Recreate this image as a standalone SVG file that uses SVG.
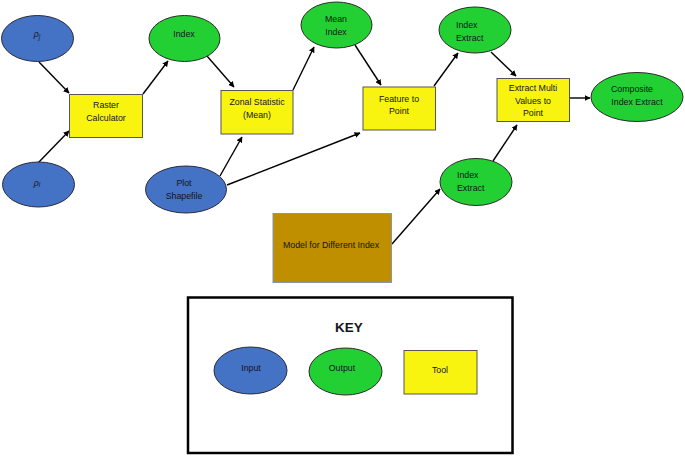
<svg xmlns="http://www.w3.org/2000/svg" width="685" height="456" viewBox="0 0 685 456">
<defs>
<marker id="ah" viewBox="0 0 10 10" refX="9" refY="5" markerWidth="6" markerHeight="6" markerUnits="userSpaceOnUse" orient="auto">
<path d="M0,0 L10,5 L0,10 z" fill="#000"/>
</marker>
<style>
.in{fill:#4472C4;stroke:#2a2a3a;stroke-width:1}
.out{fill:#22D033;stroke:#2a2a2a;stroke-width:1}
.tool{fill:#F8F410;stroke:#555;stroke-width:1}
.model{fill:#BF8F00;stroke:#8496B0;stroke-width:1}
text{font-family:"Liberation Sans",Arial,sans-serif;font-size:8.8px;fill:#141420}
.c{text-anchor:middle}
.conn line{stroke:#000;stroke-width:1.4;marker-end:url(#ah)}
.key{font-size:13.5px;font-weight:bold}
</style>
</defs>
<rect width="685" height="456" fill="#fff"/>
<g class="conn">
<line x1="39" y1="62" x2="69" y2="93"/>
<line x1="38" y1="163" x2="69" y2="131"/>
<line x1="143" y1="94" x2="168" y2="61"/>
<line x1="207" y1="56" x2="234" y2="87"/>
<line x1="293" y1="90" x2="314" y2="47"/>
<line x1="355" y1="45" x2="381" y2="85"/>
<line x1="220" y1="176" x2="242" y2="137"/>
<line x1="227" y1="185" x2="360" y2="133"/>
<line x1="434" y1="86" x2="458" y2="53"/>
<line x1="491" y1="52" x2="516" y2="76"/>
<line x1="569" y1="98" x2="590" y2="98"/>
<line x1="493" y1="161" x2="517" y2="125"/>
<line x1="392" y1="244" x2="440" y2="189"/>
</g>
<g id="rho-j"><ellipse class="in" cx="37.5" cy="38.5" rx="36" ry="23"/><text class="c" x="37" y="37" font-style="italic">ρ<tspan font-size="6.5" dy="1.5">j</tspan></text></g>
<g id="rho-i"><ellipse class="in" cx="38.5" cy="184.5" rx="36" ry="22.5"/><text class="c" x="37" y="186" font-style="italic">ρ<tspan font-size="6.5" dy="1">i</tspan></text></g>
<g id="raster"><rect class="tool" x="69.5" y="94.5" width="73" height="43"/><text class="c" x="106" y="108">Raster</text><text class="c" x="106" y="121">Calculator</text></g>
<g id="index1"><ellipse class="out" cx="184.5" cy="38.5" rx="35.5" ry="23"/><text class="c" x="184" y="37">Index</text></g>
<g id="zonal"><rect class="tool" x="221" y="90.5" width="72" height="43.5"/><text class="c" x="257" y="105">Zonal Statistic</text><text class="c" x="257" y="118">(Mean)</text></g>
<g id="mean-index"><ellipse class="out" cx="336.5" cy="25" rx="35.5" ry="23"/><text class="c" x="336" y="22">Mean</text><text class="c" x="336" y="35">Index</text></g>
<g id="feature"><rect class="tool" x="363" y="87" width="72.5" height="43"/><text class="c" x="399" y="102">Feature to</text><text class="c" x="399" y="114">Point</text></g>
<g id="index-extract-top"><ellipse class="out" cx="475" cy="30" rx="36" ry="23"/><text x="456" y="28">Index</text><text x="456" y="41">Extract</text></g>
<g id="extract-multi"><rect class="tool" x="497" y="78.5" width="72.5" height="43"/><text class="c" x="533" y="91">Extract Multi</text><text class="c" x="533" y="104">Values to</text><text class="c" x="533" y="116">Point</text></g>
<g id="composite"><ellipse class="out" cx="637" cy="97" rx="46" ry="24.5"/><text class="c" x="632" y="92">Composite</text><text class="c" x="637" y="105">Index Extract</text></g>
<g id="plot"><ellipse class="in" cx="186" cy="189.5" rx="40.5" ry="23.5"/><text class="c" x="184" y="186">Plot</text><text class="c" x="184" y="199">Shapefile</text></g>
<g id="index-extract-bottom"><ellipse class="out" cx="476" cy="182" rx="36" ry="23.5"/><text x="457" y="178">Index</text><text x="457" y="191">Extract</text></g>
<g id="model"><rect class="model" x="273" y="213.5" width="118.5" height="69"/><text class="c" x="331" y="248">Model for Different Index</text></g>
<g id="key">
<rect x="188" y="297.5" width="324.5" height="155.5" fill="none" stroke="#000" stroke-width="2.5"/>
<text class="c key" x="349" y="332">KEY</text>
<ellipse class="in" cx="250.5" cy="370.5" rx="36.5" ry="23.5"/><text class="c" x="251" y="371">Input</text>
<ellipse class="out" cx="345.5" cy="371.5" rx="36.5" ry="23.5"/><text class="c" x="342" y="371">Output</text>
<rect class="tool" x="404" y="350.5" width="73" height="43.5"/><text class="c" x="440" y="373">Tool</text>
</g>
</svg>
